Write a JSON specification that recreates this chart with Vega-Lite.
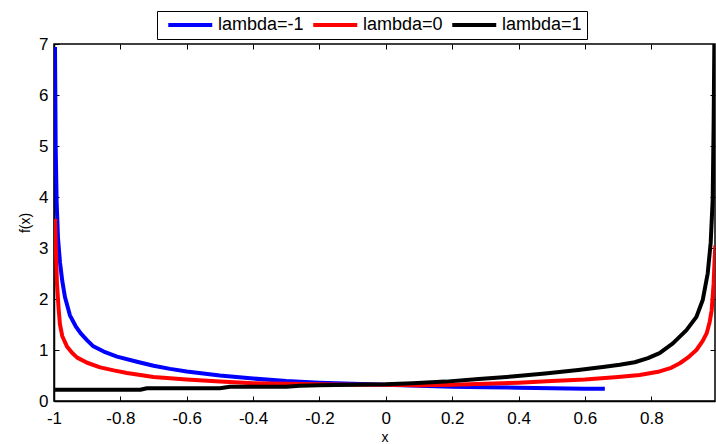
{
  "$schema": "https://vega.github.io/schema/vega-lite/v6.json",
  "width": 661,
  "height": 357,
  "autosize": {"type": "none"},
  "padding": {"left": 54, "top": 44, "right": 1, "bottom": 43},
  "background": "white",
  "config": {
    "font": "Liberation Sans",
    "view": {"stroke": "black", "strokeWidth": 1.5},
    "axis": {
      "domainColor": "black",
      "domainWidth": 1.5,
      "tickColor": "black",
      "tickWidth": 1,
      "tickSize": -5,
      "grid": false,
      "labelColor": "black",
      "labelFontSize": 17,
      "labelFont": "Liberation Sans",
      "labelExpr": "toString(datum.value)",
      "titleColor": "black",
      "titleFont": "Liberation Sans",
      "titleFontSize": 14,
      "titleFontWeight": "normal"
    }
  },
  "data": {
    "values": [
      {"x": -0.997, "y": 6.94, "series": "lambda=-1"},
      {"x": -0.995, "y": 5.0, "series": "lambda=-1"},
      {"x": -0.992, "y": 3.9, "series": "lambda=-1"},
      {"x": -0.988, "y": 3.2, "series": "lambda=-1"},
      {"x": -0.982, "y": 2.72, "series": "lambda=-1"},
      {"x": -0.975, "y": 2.35, "series": "lambda=-1"},
      {"x": -0.967, "y": 2.04, "series": "lambda=-1"},
      {"x": -0.952, "y": 1.68, "series": "lambda=-1"},
      {"x": -0.935, "y": 1.47, "series": "lambda=-1"},
      {"x": -0.92, "y": 1.33, "series": "lambda=-1"},
      {"x": -0.9, "y": 1.19, "series": "lambda=-1"},
      {"x": -0.883, "y": 1.08, "series": "lambda=-1"},
      {"x": -0.85, "y": 0.97, "series": "lambda=-1"},
      {"x": -0.81, "y": 0.87, "series": "lambda=-1"},
      {"x": -0.75, "y": 0.77, "series": "lambda=-1"},
      {"x": -0.7, "y": 0.69, "series": "lambda=-1"},
      {"x": -0.65, "y": 0.63, "series": "lambda=-1"},
      {"x": -0.6, "y": 0.58, "series": "lambda=-1"},
      {"x": -0.5, "y": 0.5, "series": "lambda=-1"},
      {"x": -0.4, "y": 0.44, "series": "lambda=-1"},
      {"x": -0.3, "y": 0.39, "series": "lambda=-1"},
      {"x": -0.2, "y": 0.36, "series": "lambda=-1"},
      {"x": -0.1, "y": 0.34, "series": "lambda=-1"},
      {"x": 0.0, "y": 0.32, "series": "lambda=-1"},
      {"x": 0.1, "y": 0.3, "series": "lambda=-1"},
      {"x": 0.2, "y": 0.28, "series": "lambda=-1"},
      {"x": 0.3, "y": 0.27, "series": "lambda=-1"},
      {"x": 0.4, "y": 0.26, "series": "lambda=-1"},
      {"x": 0.5, "y": 0.25, "series": "lambda=-1"},
      {"x": 0.6, "y": 0.24, "series": "lambda=-1"},
      {"x": 0.66, "y": 0.24, "series": "lambda=-1"},

      {"x": -0.997, "y": 3.57, "series": "lambda=0"},
      {"x": -0.994, "y": 2.9, "series": "lambda=0"},
      {"x": -0.991, "y": 2.3, "series": "lambda=0"},
      {"x": -0.986, "y": 1.8, "series": "lambda=0"},
      {"x": -0.982, "y": 1.5, "series": "lambda=0"},
      {"x": -0.975, "y": 1.27, "series": "lambda=0"},
      {"x": -0.961, "y": 1.07, "series": "lambda=0"},
      {"x": -0.945, "y": 0.94, "series": "lambda=0"},
      {"x": -0.93, "y": 0.85, "series": "lambda=0"},
      {"x": -0.9, "y": 0.75, "series": "lambda=0"},
      {"x": -0.861, "y": 0.66, "series": "lambda=0"},
      {"x": -0.82, "y": 0.6, "series": "lambda=0"},
      {"x": -0.78, "y": 0.55, "series": "lambda=0"},
      {"x": -0.7, "y": 0.47, "series": "lambda=0"},
      {"x": -0.6, "y": 0.42, "series": "lambda=0"},
      {"x": -0.5, "y": 0.38, "series": "lambda=0"},
      {"x": -0.4, "y": 0.35, "series": "lambda=0"},
      {"x": -0.3, "y": 0.34, "series": "lambda=0"},
      {"x": -0.2, "y": 0.33, "series": "lambda=0"},
      {"x": -0.1, "y": 0.32, "series": "lambda=0"},
      {"x": 0.0, "y": 0.32, "series": "lambda=0"},
      {"x": 0.1, "y": 0.31, "series": "lambda=0"},
      {"x": 0.2, "y": 0.32, "series": "lambda=0"},
      {"x": 0.3, "y": 0.34, "series": "lambda=0"},
      {"x": 0.4, "y": 0.36, "series": "lambda=0"},
      {"x": 0.5, "y": 0.39, "series": "lambda=0"},
      {"x": 0.6, "y": 0.42, "series": "lambda=0"},
      {"x": 0.7, "y": 0.47, "series": "lambda=0"},
      {"x": 0.765, "y": 0.51, "series": "lambda=0"},
      {"x": 0.825, "y": 0.58, "series": "lambda=0"},
      {"x": 0.86, "y": 0.65, "series": "lambda=0"},
      {"x": 0.886, "y": 0.74, "series": "lambda=0"},
      {"x": 0.91, "y": 0.85, "series": "lambda=0"},
      {"x": 0.936, "y": 1.0, "series": "lambda=0"},
      {"x": 0.955, "y": 1.18, "series": "lambda=0"},
      {"x": 0.967, "y": 1.33, "series": "lambda=0"},
      {"x": 0.976, "y": 1.55, "series": "lambda=0"},
      {"x": 0.982, "y": 1.78, "series": "lambda=0"},
      {"x": 0.988, "y": 2.31, "series": "lambda=0"},
      {"x": 0.991, "y": 2.8, "series": "lambda=0"},
      {"x": 0.993, "y": 3.05, "series": "lambda=0"},

      {"x": -1.0, "y": 0.22, "series": "lambda=1"},
      {"x": -0.9, "y": 0.22, "series": "lambda=1"},
      {"x": -0.8, "y": 0.22, "series": "lambda=1"},
      {"x": -0.74, "y": 0.22, "series": "lambda=1"},
      {"x": -0.72, "y": 0.25, "series": "lambda=1"},
      {"x": -0.6, "y": 0.25, "series": "lambda=1"},
      {"x": -0.5, "y": 0.25, "series": "lambda=1"},
      {"x": -0.47, "y": 0.28, "series": "lambda=1"},
      {"x": -0.4, "y": 0.28, "series": "lambda=1"},
      {"x": -0.3, "y": 0.28, "series": "lambda=1"},
      {"x": -0.26, "y": 0.3, "series": "lambda=1"},
      {"x": -0.2, "y": 0.31, "series": "lambda=1"},
      {"x": -0.1, "y": 0.32, "series": "lambda=1"},
      {"x": 0.0, "y": 0.33, "series": "lambda=1"},
      {"x": 0.08, "y": 0.35, "series": "lambda=1"},
      {"x": 0.18, "y": 0.38, "series": "lambda=1"},
      {"x": 0.28, "y": 0.43, "series": "lambda=1"},
      {"x": 0.38, "y": 0.48, "series": "lambda=1"},
      {"x": 0.48, "y": 0.54, "series": "lambda=1"},
      {"x": 0.58, "y": 0.61, "series": "lambda=1"},
      {"x": 0.66, "y": 0.67, "series": "lambda=1"},
      {"x": 0.705, "y": 0.71, "series": "lambda=1"},
      {"x": 0.75, "y": 0.76, "series": "lambda=1"},
      {"x": 0.79, "y": 0.84, "series": "lambda=1"},
      {"x": 0.825, "y": 0.94, "series": "lambda=1"},
      {"x": 0.865, "y": 1.13, "series": "lambda=1"},
      {"x": 0.906, "y": 1.39, "series": "lambda=1"},
      {"x": 0.936, "y": 1.65, "series": "lambda=1"},
      {"x": 0.955, "y": 1.98, "series": "lambda=1"},
      {"x": 0.97, "y": 2.5, "series": "lambda=1"},
      {"x": 0.979, "y": 3.1, "series": "lambda=1"},
      {"x": 0.985, "y": 3.94, "series": "lambda=1"},
      {"x": 0.988, "y": 5.5, "series": "lambda=1"},
      {"x": 0.99, "y": 7.0, "series": "lambda=1"}
    ]
  },
  "layer": [
    {
      "mark": {"type": "line", "strokeWidth": 4, "clip": true, "strokeJoin": "round"},
      "encoding": {
        "x": {
          "field": "x", "type": "quantitative",
          "scale": {"domain": [-1, 0.992], "nice": false, "zero": false},
          "axis": {"orient": "bottom", "title": "x", "values": [-1, -0.8, -0.6, -0.4, -0.2, 0, 0.2, 0.4, 0.6, 0.8], "labelPadding": 14, "titleBaseline": "alphabetic", "titleY": 40, "labelFlush": false}
        },
        "y": {
          "field": "y", "type": "quantitative",
          "scale": {"domain": [0, 7], "nice": false},
          "axis": {"orient": "left", "title": "f(x)", "values": [0, 1, 2, 3, 4, 5, 6, 7], "labelPadding": 11, "titlePadding": 6, "labelFlush": false}
        },
        "color": {
          "field": "series", "type": "nominal",
          "scale": {"domain": ["lambda=-1", "lambda=0", "lambda=1"], "range": ["#0000ff", "#ff0000", "#000000"]},
          "legend": {
            "title": null,
            "orient": "none",
            "legendX": 103,
            "legendY": -33,
            "direction": "horizontal",
            "columns": 3,
            "symbolType": "M-0.5,0H7.5",
            "symbolSize": 121,
            "symbolStrokeWidth": 4,
            "labelFontSize": 18,
            "labelFont": "Liberation Sans",
            "labelColor": "black",
            "labelOffset": 38,
            "columnPadding": 1,
            "strokeColor": "black",
            "fillColor": "white",
            "padding": 5
          }
        }
      }
    },
    {
      "mark": {"type": "line", "opacity": 0},
      "encoding": {
        "x": {
          "field": "x", "type": "quantitative",
          "axis": {"orient": "top", "title": null, "labels": false, "domain": false, "values": [-0.8, -0.6, -0.4, -0.2, 0, 0.2, 0.4, 0.6, 0.8]}
        },
        "y": {
          "field": "y", "type": "quantitative",
          "axis": {"orient": "right", "title": null, "labels": false, "domain": false, "values": [1, 2, 3, 4, 5, 6]}
        },
        "detail": {"field": "series"}
      }
    }
  ],
  "resolve": {"axis": {"x": "independent", "y": "independent"}}
}
